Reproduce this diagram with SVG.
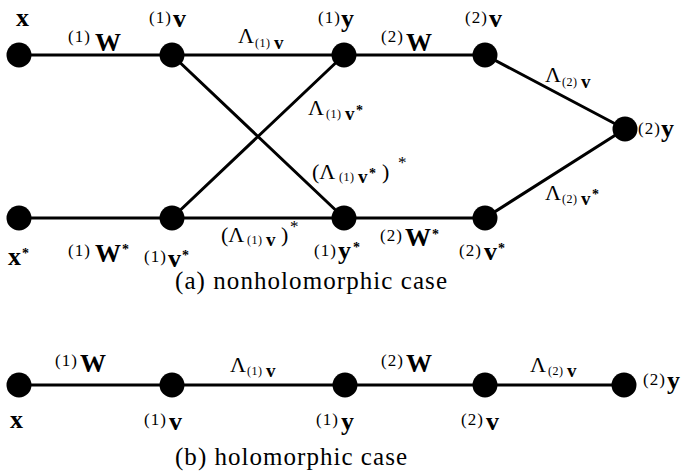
<svg xmlns="http://www.w3.org/2000/svg" width="685" height="475" viewBox="0 0 685 475" font-family="'Liberation Serif', 'DejaVu Serif', serif">
<style>
.m{font-family:'Liberation Serif','DejaVu Serif',serif;font-weight:bold;font-size:26px}
.s{font-family:'Liberation Serif','DejaVu Serif',serif;font-size:17px;letter-spacing:1px}
.L{font-family:'Liberation Serif','DejaVu Serif',serif;font-size:22px}
.ss{font-family:'Liberation Serif','DejaVu Serif',serif;font-size:12px;letter-spacing:0.5px}
.sv{font-family:'Liberation Serif','DejaVu Serif',serif;font-weight:bold;font-size:19px}
.st{font-family:'Liberation Serif','DejaVu Serif',serif;font-size:14px;font-weight:bold}
.cap{font-family:'Liberation Serif','DejaVu Serif',serif;font-size:25px}
.n{fill:#000}
.e{stroke:#000;stroke-width:3;fill:none}
</style>
<defs><circle id="dot" r="12.5" class="n"/></defs>
<g id="connectors">
<path class="e" d="M19,55H485L625,129M19,218H485L625,129M172,55L344,218M172,218L344,55"/>
<path class="e" d="M19,385H624"/>
</g>
<g id="n_x"><use href="#dot" x="19" y="55"/><text class="m" x="16" y="26">x</text></g>
<g id="n_1v"><use href="#dot" x="172" y="55"/><text><tspan class="s" x="149" y="23">(1)</tspan><tspan class="m" x="173" y="27">v</tspan></text></g>
<g id="n_1y"><use href="#dot" x="344" y="55"/><text><tspan class="s" x="318" y="23">(1)</tspan><tspan class="m" x="341" y="27">y</tspan></text></g>
<g id="n_2v"><use href="#dot" x="485" y="55"/><text><tspan class="s" x="465" y="23">(2)</tspan><tspan class="m" x="489" y="27">v</tspan></text></g>
<g id="n_2y"><use href="#dot" x="625" y="129"/><text><tspan class="s" x="638" y="134">(2)</tspan><tspan class="m" x="661" y="137">y</tspan></text></g>
<g id="n_xs"><use href="#dot" x="19" y="218"/><text><tspan class="m" x="8" y="265">x</tspan><tspan class="st" x="22" y="258">*</tspan></text></g>
<g id="n_1vs"><use href="#dot" x="172" y="218"/><text><tspan class="s" x="144" y="262">(1)</tspan><tspan class="m" x="168" y="267">v</tspan><tspan class="st" x="182" y="260">*</tspan></text></g>
<g id="n_1ys"><use href="#dot" x="344" y="218"/><text><tspan class="s" x="314" y="256">(1)</tspan><tspan class="m" x="338" y="259">y</tspan><tspan class="st" x="353" y="252">*</tspan></text></g>
<g id="n_2vs"><use href="#dot" x="485" y="218"/><text><tspan class="s" x="459" y="256">(2)</tspan><tspan class="m" x="484" y="260">v</tspan><tspan class="st" x="498" y="253">*</tspan></text></g>
<g id="edge_labels_a">
<text><tspan class="s" x="68" y="42">(1)</tspan><tspan class="m" x="95" y="51">W</tspan></text>
<text><tspan class="L" x="238" y="43">Λ</tspan><tspan class="ss" x="255" y="47">(1)</tspan><tspan class="sv" x="274" y="49">v</tspan></text>
<text><tspan class="s" x="381" y="42">(2)</tspan><tspan class="m" x="406" y="51">W</tspan></text>
<text><tspan class="L" x="545" y="82">Λ</tspan><tspan class="ss" x="562" y="86">(2)</tspan><tspan class="sv" x="581" y="88">v</tspan></text>
<text><tspan class="L" x="308" y="115">Λ</tspan><tspan class="ss" x="326" y="118">(1)</tspan><tspan class="sv" x="345" y="120">v</tspan><tspan class="st" x="356" y="115">*</tspan></text>
<text><tspan class="L" x="312" y="179">(Λ</tspan><tspan class="ss" x="339" y="181">(1)</tspan><tspan class="sv" x="358" y="183">v</tspan><tspan class="st" x="369" y="178">*</tspan><tspan class="L" x="382" y="179">)</tspan><tspan class="s" x="398" y="168">*</tspan></text>
<text><tspan class="L" x="545" y="200">Λ</tspan><tspan class="ss" x="562" y="203">(2)</tspan><tspan class="sv" x="581" y="205">v</tspan><tspan class="st" x="592" y="199">*</tspan></text>
<text><tspan class="s" x="68" y="256">(1)</tspan><tspan class="m" x="95" y="262">W</tspan><tspan class="st" x="122" y="254">*</tspan></text>
<text><tspan class="L" x="221" y="242">(Λ</tspan><tspan class="ss" x="247" y="244">(1)</tspan><tspan class="sv" x="266" y="246">v</tspan><tspan class="L" x="281" y="242">)</tspan><tspan class="s" x="290" y="232">*</tspan></text>
<text><tspan class="s" x="380" y="241">(2)</tspan><tspan class="m" x="405" y="246">W</tspan><tspan class="st" x="432" y="239">*</tspan></text>
<text class="cap" x="175" y="289" textLength="272" lengthAdjust="spacing">(a) nonholomorphic case</text>
</g>
<g id="n_b_x"><use href="#dot" x="19" y="385"/><text class="m" x="10" y="428">x</text></g>
<g id="n_b_1v"><use href="#dot" x="172" y="385"/><text><tspan class="s" x="144" y="425">(1)</tspan><tspan class="m" x="169" y="430">v</tspan></text></g>
<g id="n_b_1y"><use href="#dot" x="345" y="385"/><text><tspan class="s" x="316" y="425">(1)</tspan><tspan class="m" x="341" y="430">y</tspan></text></g>
<g id="n_b_2v"><use href="#dot" x="485" y="385"/><text><tspan class="s" x="461" y="425">(2)</tspan><tspan class="m" x="486" y="430">v</tspan></text></g>
<g id="n_b_2y"><use href="#dot" x="624" y="385"/><text><tspan class="s" x="643" y="385">(2)</tspan><tspan class="m" x="667" y="389">y</tspan></text></g>
<g id="edge_labels_b">
<text><tspan class="s" x="55" y="366">(1)</tspan><tspan class="m" x="80" y="372">W</tspan></text>
<text><tspan class="L" x="230" y="372">Λ</tspan><tspan class="ss" x="247" y="375">(1)</tspan><tspan class="sv" x="266" y="377">v</tspan></text>
<text><tspan class="s" x="381" y="366">(2)</tspan><tspan class="m" x="406" y="372">W</tspan></text>
<text><tspan class="L" x="530" y="372">Λ</tspan><tspan class="ss" x="548" y="375">(2)</tspan><tspan class="sv" x="567" y="377">v</tspan></text>
<text class="cap" x="175" y="465" textLength="232" lengthAdjust="spacing">(b) holomorphic case</text>
</g>
</svg>
